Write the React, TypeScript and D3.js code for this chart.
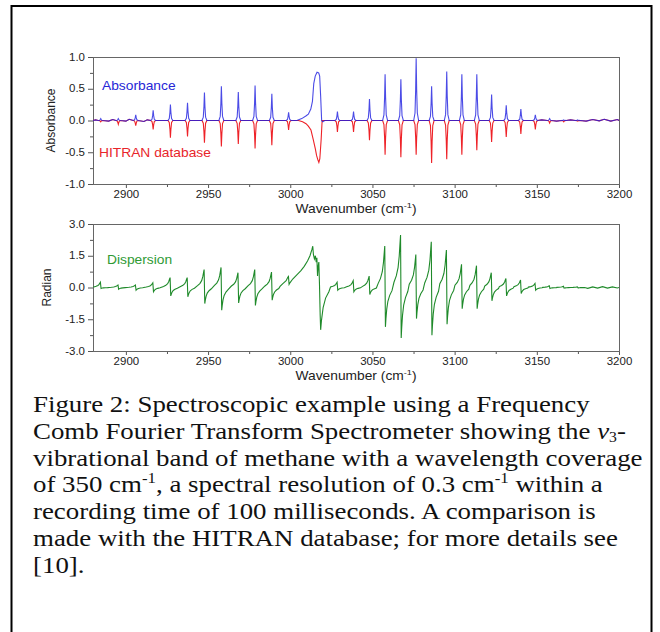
'use client'

import { useEffect, useRef } from 'react'
import * as d3 from 'd3'

// P- and R-branch line centres (cm-1), P(13) ... R(16)
const lineCenters = [
  2884.7, 2895.4, 2906.0, 2916.6, 2927.1, 2937.5, 2947.8, 2958.1, 2968.4, 2978.6, 2988.8, 2999.0,
  3028.7, 3038.5, 3048.2, 3057.7, 3067.3, 3076.6, 3086.0, 3095.2, 3104.4, 3113.5, 3122.5, 3131.4,
  3140.3, 3149.1, 3157.8, 3166.4, 3174.9,
]

// peak absorbance per line, measured and HITRAN (drawn inverted)
const measuredPeaks = [
  0.03, 0.03, 0.09, 0.16, 0.25, 0.28, 0.44, 0.54, 0.45, 0.55, 0.42, 0.13,
  0.14, 0.14, 0.34, 0.73, 0.65, 0.98, 0.54, 0.77, 0.73, 0.73, 0.41, 0.24,
  0.18, 0.09, 0.03, 0.01, 0.01,
]
const hitranPeaks = [
  -0.02, -0.06, -0.08, -0.14, -0.27, -0.25, -0.35, -0.41, -0.37, -0.44, -0.39, -0.15,
  -0.18, -0.18, -0.31, -0.54, -0.58, -0.54, -0.67, -0.61, -0.54, -0.47, -0.34, -0.26,
  -0.21, -0.14, -0.04, -0.02, -0.01,
]

// dispersion maximum / minimum per line (radian); P(2) sits inside the Q-branch trace
const dispersionUp = [
  0.25, 0.12, 0.12, 0.22, 0.47, 0.47, 0.85, 0.95, 0.7, 0.85, 0.73, null,
  0.25, 0.32, 0.54, 1.96, 2.48, 1.56, 2.16, 1.77, 1.1, 1.03, 0.7, 0.43,
  0.35, 0.19, 0.08, 0.06, 0.03,
]
const dispersionDown = [
  -0.05, -0.08, -0.13, -0.2, -0.4, -0.44, -0.76, -1.07, -0.73, -0.85, -0.6, null,
  -0.13, -0.2, -0.33, -1.86, -2.39, -1.47, -2.26, -1.74, -1.0, -1.0, -0.63, -0.4,
  -0.28, -0.13, -0.05, -0.03, -0.02,
]

// Q-branch traces read point by point
const qMeasured: [number, number][] = [
  [3004, 0], [3007, 0.03], [3009.5, 0.07], [3011, 0.1], [3012.5, 0.18], [3013.5, 0.3],
  [3014.3, 0.58], [3015.2, 0.7], [3016.3, 0.76], [3017.3, 0.75], [3017.9, 0.7],
  [3018.5, 0.38], [3019.1, 0.0], [3019.8, -0.02], [3021, 0],
]
const qHitran: [number, number][] = [
  [3005, 0], [3007.5, -0.02], [3009.6, -0.05], [3011, -0.09], [3012.6, -0.15], [3014, -0.3],
  [3015.3, -0.45], [3016, -0.55], [3016.8, -0.62], [3017.4, -0.66], [3018, -0.6],
  [3018.8, -0.3], [3019.4, 0], [3021, 0],
]
const qDispersion: [number, number][] = [
  [2993.8, 0.05], [2995.5, 0.18], [2997.5, 0.32], [2998.5, 0.48], [2998.9, 0.52], [2999.3, 0.15],
  [2999.8, 0.22], [3001.5, 0.4], [3004, 0.6], [3006.5, 0.8], [3008.5, 1.0], [3010.5, 1.25],
  [3012, 1.5], [3013.2, 1.8], [3013.7, 1.95], [3014.1, 1.55], [3014.7, 1.35], [3015.3, 1.5],
  [3015.8, 1.2], [3016.2, 1.4], [3016.6, 0.55], [3017, 1.0], [3017.4, 1.2], [3017.8, 0.1],
  [3018.2, -1.3], [3018.5, -2.0], [3019, -1.55], [3020, -0.95], [3021.5, -0.5], [3023.5, -0.2],
]

// small baseline ripple
const absNoise: [number, number][] = [
  [2880, 0], [2881.5, 0.01], [2889.5, -0.01], [2892, 0.015], [2900, -0.01], [2902, 0.02],
  [2911, -0.015], [2913, 0.01], [3153, 0.01], [3162, -0.01], [3170.5, 0.01], [3180, -0.01],
  [3184, 0.015], [3188, -0.005], [3191, 0.02], [3195, -0.01], [3199, 0.015], [3200, 0],
]
const dispNoise: [number, number][] = [
  [2880, 0.02], [3181, -0.04], [3184, 0.03], [3187, -0.03], [3190, 0.04], [3193, -0.03],
  [3196, 0.03], [3199, -0.02], [3200, 0],
]

// normalised line shapes (offset in cm-1, fraction of peak)
const absShape = [[-1.5, 0], [-0.7, 0.12], [-0.3, 0.5], [0, 1], [0.3, 0.5], [0.7, 0.12], [1.5, 0]]
const dispUpShape = [[-4.2, 0.1], [-2.8, 0.22], [-1.7, 0.38], [-1, 0.6], [-0.5, 0.85], [-0.2, 1]]
const dispDownShape = [[0.2, 1], [0.5, 0.8], [1, 0.55], [1.7, 0.35], [2.8, 0.2], [4.2, 0.08]]

const xTicks = [2900, 2950, 3000, 3050, 3100, 3150, 3200]
const xMinor = [2925, 2975, 3025, 3075, 3125, 3175]
const absTicks = [-1, -0.5, 0, 0.5, 1]
const absMinor = [-0.75, -0.25, 0.25, 0.75]
const radTicks = [-3, -1.5, 0, 1.5, 3]
const radMinor = [-2.25, -0.75, 0.75, 2.25]

const captionLines = [
  'Figure 2: Spectroscopic example using a Frequency',
  'Comb Fourier Transform Spectrometer showing the ',
  'vibrational band of methane with a wavelength coverage',
  'of 350 cm',
  'recording time of 100 milliseconds. A comparison is',
  'made with the HITRAN database; for more details see',
  '[10].',
]

const SX = 1.15 // the figure is slightly stretched horizontally
const SANS = "Arial, 'Liberation Sans', sans-serif"
const SERIF = "'Liberation Serif', 'Times New Roman', serif"

type Pt = [number, number]

function peakTrace(heights: number[], q: Pt[], noise: Pt[]): Pt[] {
  const pts: Pt[] = []
  lineCenters.forEach((c, i) => {
    absShape.forEach(([dx, f]) => pts.push([c + dx, f * heights[i]]))
  })
  return pts.concat(q, noise).sort((a, b) => a[0] - b[0])
}

function dispersionTrace(): Pt[] {
  const pts: Pt[] = []
  lineCenters.forEach((c, i) => {
    const up = dispersionUp[i]
    const down = dispersionDown[i]
    if (up == null || down == null) return
    dispUpShape.forEach(([dx, f]) => pts.push([c + dx, f * up]))
    dispDownShape.forEach(([dx, f]) => pts.push([c + dx, f * down]))
  })
  return pts.concat(qDispersion, dispNoise).sort((a, b) => a[0] - b[0])
}

export default function App() {
  const svgRef = useRef<SVGSVGElement>(null)

  useEffect(() => {
    if (!svgRef.current) return
    const svg = d3.select(svgRef.current)
    svg.selectAll('*').remove()

    const left = 93
    const right = 619
    const x = d3.scaleLinear().domain([2880, 3200]).range([left, right])

    const stretchedText = (
      parent: d3.Selection<any, unknown, null, undefined>,
      tx: number,
      ty: number,
      size: number,
      color: string,
      anchor = 'start'
    ) =>
      parent
        .append('text')
        .attr('transform', `translate(${tx},${ty}) scale(${SX},1)`)
        .attr('font-family', SANS)
        .attr('font-size', size)
        .attr('fill', color)
        .attr('text-anchor', anchor)

    const panel = (
      top: number,
      bottom: number,
      domain: [number, number],
      major: number[],
      minor: number[],
      yTitle: string,
      id: string
    ) => {
      const y = d3.scaleLinear().domain(domain).range([bottom, top])
      const g = svg.append('g')

      const style = (sel: d3.Selection<SVGGElement, unknown, null, undefined>) => {
        sel.select('.domain').remove()
        sel.selectAll('line').attr('stroke', '#555')
        sel.attr('font-family', SANS).attr('font-size', 10)
        sel.selectAll('text').attr('fill', '#222')
      }

      g.append('g')
        .attr('transform', `translate(0,${bottom})`)
        .call(d3.axisBottom(x).tickValues(xMinor).tickSize(3).tickFormat(() => ''))
        .call(style)
      const xa = g
        .append('g')
        .attr('transform', `translate(0,${bottom})`)
        .call(d3.axisBottom(x).tickValues(xTicks).tickSize(4).tickFormat(d3.format('d')))
        .call(style)
      xa.selectAll('text').attr('y', 7).attr('transform', `scale(${SX},1)`)

      g.append('g')
        .attr('transform', `translate(${left},0)`)
        .call(d3.axisLeft(y).tickValues(minor).tickSize(3).tickFormat(() => ''))
        .call(style)
      const ya = g
        .append('g')
        .attr('transform', `translate(${left},0)`)
        .call(
          d3
            .axisLeft(y)
            .tickValues(major)
            .tickSize(5)
            .tickFormat((d) => (+d).toFixed(1))
        )
        .call(style)
      ya.selectAll('text').attr('x', -8 / SX).attr('transform', `scale(${SX},1)`)

      g.append('rect')
        .attr('x', left + 0.5)
        .attr('y', top + 0.5)
        .attr('width', right - left)
        .attr('height', bottom - top)
        .attr('fill', 'none')
        .attr('stroke', '#666')

      svg
        .append('clipPath')
        .attr('id', `clip-${id}`)
        .append('rect')
        .attr('x', left)
        .attr('y', top)
        .attr('width', right - left)
        .attr('height', bottom - top)

      g.append('text')
        .attr('transform', `translate(${id === 'abs' ? 54.5 : 51},${(top + bottom) / 2}) rotate(-90)`)
        .attr('text-anchor', 'middle')
        .attr('font-family', SANS)
        .attr('font-size', 12)
        .attr('fill', '#222')
        .text(yTitle)

      const t = stretchedText(g, (left + right) / 2, bottom + 29, 12, '#222', 'middle')
      t.append('tspan').text('Wavenumber (cm')
      t.append('tspan').attr('font-size', 8).attr('dy', -5).text('-1')
      t.append('tspan').attr('dy', 5).text(')')

      return { g, y }
    }

    // absorbance panel
    const top = panel(57, 184, [-1, 1], absTicks, absMinor, 'Absorbance', 'abs')
    const lineTop = d3
      .line<Pt>()
      .x((d) => x(d[0]))
      .y((d) => top.y(d[1]))
    const plotTop = top.g.append('g').attr('clip-path', 'url(#clip-abs)')
    plotTop
      .append('path')
      .attr('d', lineTop(peakTrace(hitranPeaks, qHitran, absNoise)))
      .attr('fill', 'none')
      .attr('stroke', '#ee2228')
      .attr('stroke-width', 1.1)
    plotTop
      .append('path')
      .attr('d', lineTop(peakTrace(measuredPeaks, qMeasured, absNoise)))
      .attr('fill', 'none')
      .attr('stroke', '#1e1ee0')
      .attr('stroke-width', 1.1)
      .attr('stroke-opacity', 0.8)
    stretchedText(top.g, 102, 90, 12, '#2626d6').text('Absorbance')
    stretchedText(top.g, 99, 157, 12, '#e8252a').text('HITRAN database')

    // dispersion panel
    const bot = panel(224, 351, [-3, 3], radTicks, radMinor, 'Radian', 'rad')
    const lineBot = d3
      .line<Pt>()
      .x((d) => x(d[0]))
      .y((d) => bot.y(d[1]))
    bot.g
      .append('g')
      .attr('clip-path', 'url(#clip-rad)')
      .append('path')
      .attr('d', lineBot(dispersionTrace()))
      .attr('fill', 'none')
      .attr('stroke', '#1f8a2a')
      .attr('stroke-width', 1.1)
    stretchedText(bot.g, 107, 264, 12, '#2f9a34').text('Dispersion')

    // caption
    const cap = svg.append('g')
    captionLines.forEach((line, i) => {
      const t = cap
        .append('text')
        .attr('transform', `translate(33,${412 + i * 26.8}) scale(1.12,1)`)
        .attr('font-family', SERIF)
        .attr('font-size', 24)
        .attr('fill', '#111')
      t.append('tspan').text(line)
      if (i === 1) {
        t.append('tspan').attr('font-style', 'italic').text('v')
        t.append('tspan').attr('font-size', 14).attr('dy', 3).text('3')
        t.append('tspan').attr('dy', -3).text('-')
      }
      if (i === 3) {
        t.append('tspan').attr('font-size', 15).attr('dy', -9).text('-1')
        t.append('tspan').attr('dy', 9).text(', a spectral resolution of 0.3 cm')
        t.append('tspan').attr('font-size', 15).attr('dy', -9).text('-1')
        t.append('tspan').attr('dy', 9).text(' within a')
      }
    })

    // outer frame of the figure
    svg
      .append('rect')
      .attr('x', 11.5)
      .attr('y', 6)
      .attr('width', 640)
      .attr('height', 640)
      .attr('fill', 'none')
      .attr('stroke', '#000')
      .attr('stroke-width', 2)
  }, [])

  return (
    <svg
      ref={svgRef}
      width={660}
      height={632}
      style={{ position: 'absolute', left: 0, top: 0, background: '#fff' }}
    />
  )
}
